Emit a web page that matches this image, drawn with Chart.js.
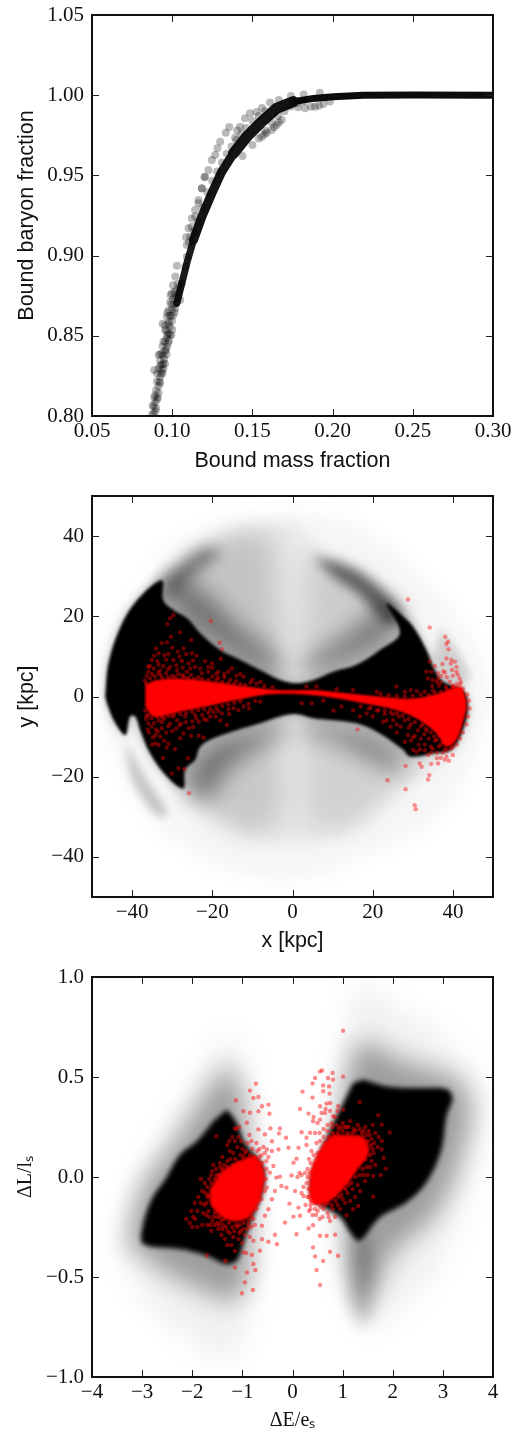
<!DOCTYPE html>
<html>
<head>
<meta charset="utf-8">
<style>
  html, body { margin: 0; background: #fff; }
  canvas { position: absolute; left: 0; display: block; }
</style>
<script src="https://cdn.jsdelivr.net/npm/chart.js@4/dist/chart.umd.min.js"></script>
</head>
<body>
<canvas id="massChart" width="514" height="480" style="top:0"></canvas>
<canvas id="orbitChart" width="514" height="480" style="top:480px"></canvas>
<canvas id="energyChart" width="514" height="473" style="top:960px"></canvas>
<script>
// tick labels
const massTicksX = [0.05, 0.10, 0.15, 0.20, 0.25, 0.30];
const massTicksY = [0.80, 0.85, 0.90, 0.95, 1.00, 1.05];
const orbitTicks = [-40, -20, 0, 20, 40];
const energyTicksX = [-4, -3, -2, -1, 0, 1, 2, 3, 4];
const energyTicksY = [-1.0, -0.5, 0.0, 0.5, 1.0];

// top panel: bound mass fraction vs bound baryon fraction
const boundTrackLow = [[.1029,.8702],[.106,.8827],[.1091,.8952],[.1133,.9097]];
const boundTrackSteep = [[.1133,.9097],[.1185,.9243],[.1247,.9388],[.1309,.9523],[.1382,.9637],[.1465,.9741]];
const boundTrackBend = [[.1382,.9637],[.1465,.9741],[.1548,.9825],[.1651,.9918],[.1755,.996]];
const boundTrackFlat = [[.1755,.996],[.188,.998],[.2004,.9991],[.2191,.9999],[.2502,1.0001],[.30,1.0]];
const boundSamples = [
  [.0875,.801],[.0885,.806],[.09,.8048],[.0894,.813],[.0888,.8115],[.0915,.8187],[.0925,.8245],[.0888,.8287],[.0905,.8265],[.0915,.838],[.0936,.839],[.0946,.8463],[.0967,.843],[.0925,.8345],
  [.0977,.8515],[.0956,.8535],[.094,.8575],[.0967,.862],[.0998,.859],[.0988,.871],[.0978,.866],[.1019,.867],[.0998,.8765],[.1029,.8786],[.105,.8723],[.1019,.8869],[.1029,.8937],[.106,.8827],
  [.0965,.8485],[.0955,.8405],[.0985,.8555],[.1005,.8625],[.0945,.8325],[.0935,.8285],[.092,.8215],
  [.0885,.8015],[.0895,.803],[.0878,.8065],[.0895,.8085],[.091,.8115],[.09,.816],[.0915,.8145],[.0905,.8215],[.093,.8265],[.0915,.8295],[.0945,.8295],[.0925,.8385],[.094,.8435],[.0955,.8465],[.096,.8415],[.097,.8505],[.0955,.8565],[.098,.8585],[.097,.8645],[.1,.8665],[.0985,.8625],[.0995,.8695],[.1005,.873],[.099,.8755],[.1015,.8775],[.1005,.8815],[.102,.8745],[.104,.8765],[.1035,.8825],[.1,.854],[.0995,.8505],[.098,.847],[.0965,.8385],[.095,.8355],[.0935,.832],
  [.0905,.8105],[.0925,.8205],[.094,.8265],[.0925,.8315],[.0955,.8325],[.0945,.8375],[.0975,.8455],[.0985,.8505],[.0965,.8535],[.0975,.8575],[.099,.8625],[.1015,.8645],[.101,.8695],[.103,.8735],[.1045,.8805],
  [.1081,.8931],[.1091,.8993],[.1091,.9066],[.1112,.9118],[.1122,.918],[.1143,.9243],[.1164,.9326],[.1185,.942],[.1205,.9492],
  [.1087,.9114],[.1102,.917],[.1122,.9232],[.1143,.9284],[.1164,.9347],[.1185,.9419],[.1201,.9488],[.1226,.9534],[.1247,.9596],[.1268,.9627],[.1282,.9669],[.1299,.971],[.1334,.9766],[.1355,.9802],
  [.1105,.9085],[.1135,.915],[.116,.921],[.119,.93],[.122,.9395],[.125,.9465],[.128,.9525],[.131,.958],[.134,.9635],[.137,.968],[.14,.972],[.143,.976],[.146,.9795],[.15,.984],[.154,.987],[.158,.99],
  [.15,.969],[.154,.973],[.158,.978],[.162,.983],[.166,.987],[.17,.99],[.174,.993],[.178,.995],[.182,.996],
  [.1485,.9887],[.1454,.9856],[.1423,.9804],[.1438,.9621],[.1392,.9735],[.1405,.978],
  [.1558,.9741],[.1589,.9766],[.162,.9783],[.1651,.9814],[.1683,.9845],[.1575,.9755],[.1635,.98],[.1665,.983],
  [.1828,.9918],[.189,.9928],[.1865,.993],[.1942,.9945],[.1915,.9935],[.1983,.996],[.1785,.9925],
  [.1525,.9895],[.156,.992],[.161,.9955],[.1665,.997],[.174,.9995],[.182,1.0005],[.192,1.0015]
];

// middle panel: black stream particles, outlines of their density
const streamCore = [[-46.7,0],[-45.9,8.3],[-42.9,17.4],[-38.8,24],[-32.6,29],[-32.2,24],[-29.7,21.6],[-26.3,19.5],[-23,15.8],[-18,11.6],[-13,9.1],[-8.1,6.6],[-3.1,4.1],[1,3.3],[5.2,4.1],[10.2,6.2],[16,7.9],[21.8,11.6],[26.8,15.8],[23.4,23.2],[26.8,20.7],[30.1,17.4],[33.4,11.6],[35.5,6.6],[37.6,3.7],[42.5,1.6],[43.8,-2.5],[42.5,-8.4],[39.6,-13.3],[35.1,-14.2],[29.3,-15],[27.6,-13.3],[21.8,-9.2],[16,-6.7],[10.2,-5.9],[5.2,-5.4],[1,-4.4],[-3.1,-5],[-8.1,-6.7],[-13.9,-8.4],[-19.7,-10.4],[-23,-12.5],[-24.3,-15.8],[-26.8,-18.3],[-27.2,-22.9],[-31.3,-20],[-35.5,-14.2],[-38,-8.4],[-39.2,-5],[-40.5,-5],[-41.7,-9.6],[-44.6,-5.9],[-46.3,-1.7]];
const streamOuterHaze = [[0,46],[13,44],[26,36],[36,26],[45,14],[49,0],[47,-10],[42,-23],[33,-33],[20,-39],[5,-45],[-10,-45],[-25,-39],[-33,-33],[-41,-22],[-46,-8],[-47,5],[-44,18],[-36,28],[-25,38],[-12,44]];
const streamDisc = [[0,44],[8.5,36],[21.8,27],[30,17],[38.4,-15],[26,-23.3],[13.5,-34],[0,-37],[-11.4,-34],[-19.7,-30],[-27,-23],[-38,-8],[-38,24],[-33,29],[-25,36],[-12,42]];
const streamUpperLeft = [[-33,29],[-26,36],[-15,41],[-6,40],[-4,25],[-3,10],[-10,9],[-20,14],[-30,22]];
const streamRidgeLeft = [[-33,29],[-28,33],[-22,37],[-18,36],[-25,30],[-31,23]];
const streamUpperRight = [[3,35],[14,32],[22,27],[27,20],[26,16],[18,10],[8,6],[3,10],[3,25]];
const streamRidgeRight = [[5,35],[15,32],[23,26],[27,20],[24,18],[17,25],[10,30]];
const streamLowerLeft = [[-26,-22],[-20,-30],[-10,-35],[-3,-30],[-3,-15],[-4,-8],[-15,-10],[-23,-14]];
const streamLowerRight = [[3,-32],[14,-33],[25,-24],[30,-17],[22,-11],[12,-8],[3,-8],[3,-20]];
const streamInnerUL = [[-33,27],[-28,20],[-20,13],[-10,7],[-2,4],[-4,10],[-12,16],[-20,24],[-27,30]];
const streamInnerUR = [[2,4],[10,7],[18,10],[27,17],[24,24],[18,19],[10,13],[3,9]];
const streamInnerLL = [[-2,-5],[-10,-8],[-20,-11],[-24,-15],[-27,-22],[-22,-26],[-16,-18],[-8,-12],[-2,-9]];
const streamInnerLR = [[2,-5],[10,-6.5],[18,-8],[27,-14],[29,-17],[24,-18],[18,-15],[10,-11],[3,-9]];
const streamWing = [[-41.7,-9.6],[-40.4,-19.2],[-37.1,-25.8],[-33,-30],[-31.3,-28.8],[-36.3,-21],[-39.6,-15.1],[-42.1,-10.1]];
const streamRightEdge = [[37,17],[42,10],[44,4],[38,3],[35,10]];

// middle panel: red particles
const baryonCore = [[-36.7,2.9],[-33.8,4.1],[-28,4.5],[-19.7,3.7],[-11.4,2.5],[-3.1,1.6],[5.2,1.6],[13.5,.8],[21.8,0],[30.1,-.5],[36.7,.8],[41.7,2.5],[43.4,-1.7],[42.9,-5],[40.9,-10.8],[38.4,-12.5],[35.9,-9.2],[31.7,-5.9],[25.9,-3.4],[17.6,-1.7],[9.3,-.2],[1,.6],[-7.3,.4],[-13.9,-.9],[-21.4,-2.5],[-28,-3.8],[-34.6,-5],[-36.7,-2.5]];
const baryonDots = [
  [-29.7,20.3],[-30.5,19.5],[-31.2,18],[-20.4,18.8],[-28,16],[-30.3,14.9],[-18.2,13.4],[-25.3,14.1],[-31.3,13.5],[-32.6,13.3],[-34,12],[-17.6,11.8],[-27.2,12],[-33.4,10.8],[-32,10.3],[-25.1,10.8],[-23.9,10.2],[-17.9,9.4],[-35.1,9.1],[-29.7,9.1],[-27.6,8.9],[-25.9,8.3],[-20.1,8.3],[-21,7.4],[-33.4,7.9],[-32.2,7.6],[-30.5,7.4],[-24.3,7.4],[-28.8,6.6],[-15.1,7],[-16,6.2],[-35.9,6.2],[-18.5,6.2],[-21,6.2],[-22.6,5.8],[-26.4,6.2],[-12.2,4.9],
  [-36.3,5.2],[-35,5.6],[-33,5.4],[-31.5,5.8],[-30,5.2],[-28.5,5.6],[-27,5],[-25.3,5.4],[-23.5,4.8],[-20,5],[-18.5,4.6],[-17,4.8],[-15.5,4.2],[-14,3.9],[-10.5,3.5],[-9,3.2],[-7,2.6],[-5,2.4],[-33.7,8.8],[-30.9,10.6],[-28.6,11.2],[-34.5,10.2],
  [-36.8,4],[-36.5,3.2],[-35.5,4.5],[-34.3,5],[-32.5,4.7],[-31,4.8],[-29.3,4.9],[-27.5,5.3],[-26,4.6],[-24.5,4.4],[-22.5,4.4],[-21,4.2],[-19,4.2],[-17.5,3.6],[-16,3.4],[-14.5,3.2],[-13,3.1],[-11.8,2.9],
  [-36,7.5],[-34.6,7],[-33,6.5],[-31,6.8],[-29,7.8],[-27.4,7.2],[-25.5,7],[-23,7],[-21.8,8.8],[-20,7.2],[-19,5.6],[-17,5.6],[-14,5.2],[-13,5.6],[-28.2,10],[-31.5,9.2],[-26.5,10.6],[-33.5,6],[-35.6,7.6],[-30,12.2],[-24.8,9],[-10,4.2],[-8,3.6],
  [-33.4,-12.1],[-34.2,-11.7],[-30.9,-11.8],[-29.3,-13.1],[-32.3,-15.3],[-26.1,-15.4],[-28.4,-17.9],[-27,-18.1],[-30.1,-19.2],[-25.8,-24.1],[-22.2,-10.3],[-23.4,-9.8],[-25.9,-7.9],[-27.2,-9.2],[-25.3,-9.8],[-33,-10],[-34.2,-9.6],[-35.1,-7.5],[-32.6,-7.9],[-30.5,-6.7],[-28.8,-5.9],[-23.4,-6.3],[-21.4,-5.9],[-16.4,-7.1],[-17.6,-4.2],[-14.7,-2.9],[-12.2,-2.5],[-8.1,-1.3],[-9.3,-1.1],[-35.9,-6.7],[-33.4,-5.9],[-26.8,-5],[-24.3,-4.6],[-19.7,-3.8],
  [-36,-4.6],[-34.5,-6.6],[-32,-5.6],[-30,-5],[-27.8,-6.8],[-25,-6.2],[-22.5,-4.6],[-21,-4],[-18.5,-3.6],[-16,-3.2],[-36.1,-8.2],[-31.5,-9],[-29,-8],[-34,-8.2],[-20.5,-5],[-15.8,-4.4],[-11,-1.8],
  [-36.7,-3.5],[-36.4,-4.8],[-35.2,-5.4],[-33.8,-5],[-32.5,-5.2],[-31,-4.9],[-29.5,-4.6],[-28,-4.4],[-26.5,-4.2],[-25,-3.8],[-23.5,-3.4],[-22,-3.2],[-20.5,-3.2],[-19,-2.8],[-17.5,-2.4],[-16,-2],[-14.5,-1.6],[-13,-1.2],
  [-36.5,-5.6],[-35.8,-9],[-34.8,-10.2],[-33.6,-8.8],[-32.6,-6.4],[-31,-7.4],[-30,-8.6],[-28.2,-7.2],[-26.6,-6.4],[-24.8,-7.6],[-24,-5.4],[-22,-5.6],[-19.2,-5],[-18,-6],[-35,-12],[-32,-11],[-28,-10.4],[-31.4,-12.8],[-13.5,-3.4],[-10.8,-3],
  [3.5,2.5],[6,2.5],[11,1.8],[15.1,1.6],[21,1.2],[25.9,2.5],[28,1.2],[2.3,-1.7],[4.8,-1.7],[7.7,-1],[10.2,-3.5],[12.2,-2.5],[15.1,-3.4],[16.8,-5],[16.2,-8.2],[22.6,-6.3],[25.1,-5.9],[28,-11.3],[28.8,-9.6],[30.1,-13.3],[31.3,-8.4],[30.9,-13.8],
  [19,-3],[21,-3.5],[23,-4.4],[25,-4.5],[26.5,-5],[28,-6],[29.5,-7],[30.5,-9.8],[32,-10.5],[32.5,-7],[33.5,-8.5],[34,-10.5],[33,-12],[34.5,-12.5],[35.5,-11],[36.5,-12.5],[36,-14],[37.5,-14],[38.5,-13.5],[39.5,-13],[31.5,-12],[29.5,-11],[27,-7.5],[24.5,-7.5],[33,-4.5],[31,-2.5],[33.5,-1.5],[35,1.5],[33,1.2],[31,1.4],[29.5,1.6],
  [17,-2.5],[19.5,-2.8],[21.5,-3.4],[23,-3.5],[24.5,-3.9],[26,-4.2],[27.5,-4.8],[29,-5.6],[30.5,-6.4],[32,-7.4],[33.2,-8],[34.5,-9],[35.3,-10],[36,-10.8],[37,-12],[38,-13],[37.5,-11.3],[36.6,-9.6],[35.5,-8],[34,-6.8],
  [22,.7],[24,.4],[26,.2],[28,.1],[30,.2],[32,.5],[34,.3],[35.5,1],[37,1.2],[38.5,1.8],[40,2.6],[41.8,3],[42.5,2],[43.6,.5],[44,-1],[44.2,-3],[43.8,-5],[43.4,-7],[42.5,-9],[41.8,-10.5],[41,-12],[40,-12.6],
  [29,-7.8],[30,-10.2],[31.8,-13.2],[33,-13.4],[34.6,-14],[36,-15.4],[32.8,-9.4],[35,-13],[26,-7],[23.5,-6],[20,-5],[18.5,-4.2],[26,-9],[36,3.6],[38,6],[39.8,6.6],[41.2,5.4],[42,3.6],[35.5,7.6],
  [28.8,24.2],[34.2,17.2],[38.1,14.9],[38.8,13.7],[38.4,13.1],[38.9,11.8],[34.2,8.7],[38.4,9.5],[39.6,9.1],[40.5,8.7],[37.4,8.1],[40.9,7.4],[33.4,6.2],[34.6,6.2],[40.9,6.2],[36.3,5.8],[37.1,5.1],[36.3,4.5],[41.7,4.5],[33.8,4.5],[35,4.1],[39.2,3.7],[37,3.5],[38.5,4.8],[40,5.2],[41,3.2],[34.8,2.6],[36.5,2.7],[38.2,2.4],[40,2.6],[39.5,8.2],[37.6,6.3],
  [23.7,-20.9],[28.2,-23.1],[28.2,-17.3],[30.5,-27.1],[30.7,-28.1],[31.7,-16.7],[32.2,-17.5],[33.8,-20.7],[34.1,-19.6],[34.6,-16.8],[36.3,-16.7],[38,-15.8],[38.4,-15],[40,-14.6],[33.8,-14.6],[37,-15.3],[39,-16]
];

// bottom panel: energy vs angular momentum offsets
const debrisLeft = [[-1.31,.337],[-1.11,.27],[-.95,.171],[-.58,.055],[-.58,-.061],[-.78,-.194],[-.95,-.311],[-1.11,-.419],[-1.34,-.435],[-1.71,-.394],[-2.24,-.36],[-2.97,-.336],[-3.0,-.261],[-2.81,-.111],[-2.54,-.012],[-2.24,.113],[-1.91,.179],[-1.58,.279]];
const debrisRight = [[1.41,.487],[1.88,.453],[2.47,.445],[3.07,.44],[3.19,.395],[3.07,.304],[2.97,.138],[2.67,-.028],[2.27,-.128],[1.74,-.203],[1.34,-.319],[1.15,-.277],[.95,-.203],[.41,-.111],[.38,.005],[.75,.238],[1.01,.37],[1.21,.47]];
const debrisHazeLeft = [[-3.5,-.36],[-3.2,-.1],[-2.5,.25],[-1.9,.5],[-1.2,.72],[-.9,.5],[-.8,.2],[-.75,-.5],[-.95,-.78],[-1.3,-.92],[-2.2,-.78],[-3,-.6]];
const debrisHazeRight = [[.9,.5],[1.1,.78],[1.35,.97],[2,.85],[3,.7],[3.75,.45],[3.7,.1],[3,-.4],[2.2,-.65],[1.45,-.75],[1,-.45],[.85,-.1]];
const debrisGlowLeft = [[-3.3,-.33],[-3,-.05],[-2.4,.16],[-1.9,.35],[-1.3,.55],[-1.05,.45],[-.85,.1],[-.85,-.45],[-1.15,-.62],[-1.7,-.58],[-2.6,-.47]];
const debrisGlowRight = [[1.15,.58],[1.4,.68],[2.2,.58],[3.2,.5],[3.55,.38],[3.3,.05],[2.8,-.2],[2,-.38],[1.55,-.6],[1.3,-.62],[1.1,-.35],[.85,.2]];
const debrisSpike = [[1.2,-.28],[1.48,-.3],[1.55,-.55],[1.5,-.72],[1.3,-.72],[1.2,-.5]];
const clusterLeft = [[-1.42,.03],[-.98,.09],[-.71,.098],[-.56,.022],[-.59,-.061],[-.76,-.171],[-1.05,-.221],[-1.38,-.204],[-1.63,-.138],[-1.65,-.061]];
const clusterRight = [[.81,.214],[1.41,.198],[1.53,.125],[1.3,.038],[1.03,-.055],[.68,-.13],[.39,-.13],[.33,-.045],[.39,.055],[.6,.164]];
const clusterDots = [
  [1.01,.731],[.59,.533],[.55,.528],[.45,.495],[.40,.468],[.20,.427],[.80,.52],[.81,.487],[.71,.495],[1.01,.502],[.61,.458],[.73,.453],[.61,.429],[.74,.417],[.40,.397],[.15,.34],[.55,.354],[.68,.367],[.75,.37],[.91,.354],[1.01,.337],[1.34,.374],[1.71,.309],[.32,.317],[.65,.32],[.81,.304],[.41,.279],[.55,.287],[1.78,.261],[1.94,.223],[.18,.224],[.35,.221],[.28,.196],[.12,.146],[.08,.091],[1.78,.138],[1.82,.096],[1.86,.042],[1.61,.005],[1.76,.01],[1.61,-.098],[1.31,-.145],[1.21,-.161],[1.08,-.191],
  [.55,-.54],[.48,-.465],[.61,-.42],[.45,-.397],[.75,-.374],[.91,-.394],[.41,-.352],[.55,-.294],[.85,-.289],[.68,-.294],[.08,-.286],[.32,-.257],[.41,-.241],[.15,-.194],[.02,-.198],[.12,-.153],[-.15,-.228],[-.06,-.133],[.05,-.07],[.22,-.095],[-.22,-.045],[-.12,-.053],[-.25,.002],[-.02,.008],[.02,.071],[-.08,.146],[-.13,.196],[-.25,.243],[-.27,.218],
  [-.44,.243],[-.48,.362],[-.46,.316],[-.73,.467],[-.85,.432],[-.78,.395],[-.68,.4],[-1.13,.384],[-.61,.354],[-.98,.329],[-.68,.329],[-.85,.321],[-1.52,.204],[-1.15,.243],[-.91,.271],[-.68,.238],[-.55,.213],[-.41,.179],[-.28,.138],[-.41,.13],[-.51,.138],[-.38,.055],[-.45,.022],[-.32,-.003],[-.51,-.053],[-.35,-.07],[-.41,-.111],[-.48,-.161],[-.55,-.194],[-.61,-.244],[-.35,-.289],[-.31,-.336],[-.48,-.324],[-.61,-.311],[-.78,-.319],[-.65,-.369],[-.98,-.377],[-.81,-.389],[-.78,-.435],[-.74,-.465],[-.91,-.477],[-.95,-.527],[-1.01,-.581],[-.79,-.565],[-1.71,-.394],[-1.34,-.419],[-1.15,-.452],
  [-2.12,-.21],[-2.05,-.23],[-2,-.25],[-1.98,-.2],[-2.02,-.17],[-1.94,-.21],[-1.9,-.17],[-1.95,-.13],[-1.88,-.1],[-1.9,-.25],[-1.8,-.24],[-1.78,-.18],[-1.83,-.13],[-1.8,-.07],[-1.75,-.03],[-1.83,-.01],[-1.7,-.1],[-1.68,-.17],[-1.7,-.24],[-1.6,-.22],[-1.62,-.27],[-1.66,-.01],[-1.6,.03],[-1.58,.06],[-1.52,.04],[-1.55,-.24],[-1.5,-.2],[-1.48,-.26],[-1.42,-.29],[-1.38,-.24],[-1.35,-.31],[-1.3,-.34],[-1.25,-.28],[-1.22,-.34],[-1.18,-.3],[-1.15,-.37],[-1.1,-.25],[-1.08,-.31],[-1.03,-.27],[-1,-.33],[-.95,-.29],[-.9,-.26],[-.87,-.22],[-.92,-.38],[-.85,-.3],[-1.45,.07],[-1.4,.1],[-1.3,.08],[-1.25,.13],[-1.18,.12],[-1.1,.15],[-1.3,.16],[-1.2,.2],[-1.15,.18],[-1.08,.2],[-1,.14],[-.95,.12],[-.9,.17],[-.85,.11],[-.8,.14],[-.75,.1],[-.7,.13],[-.62,.11],[-.55,.12],[-.52,.08],[-.48,.1],
  [-1.7,-.05],[-1.72,-.13],[-1.66,-.2],[-1.55,-.18],[-1.5,-.23],[-1.42,-.22],[-1.33,-.25],[-1.27,-.23],[-1.2,-.25],[-1.12,-.24],[-1.05,-.24],[-.97,-.23],[-.92,-.2],[-.83,-.2],[-.78,-.21],[-.72,-.16],[-.68,-.12],[-.62,-.11],[-.55,-.07],[-.53,-.01],[-.52,.04],[-.6,.07],[-.66,.1],[-.78,.1],[-.88,.09],[-.98,.1],[-1.08,.07],[-1.18,.06],[-1.3,.05],[-1.4,.04],[-1.47,.01],[-1.55,-.01],[-1.62,-.03],[-1.68,-.09],[-1.58,-.14],[-1.45,-.2],[-1.36,-.21],
  [-1.74,-.08],[-1.76,-.14],[-1.72,-.19],[-1.64,-.24],[-1.57,-.2],[-1.46,-.24],[-1.4,-.26],[-1.3,-.27],[-1.16,-.27],[-1.06,-.28],[-.98,-.26],[-.88,-.24],[-.82,-.25],[-.75,-.24],[-1.62,.01],[-1.52,.01],[-1.44,.05],[-1.36,.06],[-1.24,.09],[-1.14,.09],[-1.04,.11],[-.92,.13],[-.72,.17],[-.66,.14],[-.58,.15],[-1.26,.18],[-1.02,.18],[-.86,.21],[-1.12,.24],[-1.06,.25],[-.82,.18],
  [.3,.04],[.25,.02],[.18,.01],[.14,.02],[.1,.0],[.28,-.03],[.22,-.05],[.18,-.08],[.3,-.1],[.26,-.14],[.36,-.14],[.33,-.17],[.4,-.19],[.45,-.16],[.5,-.17],[.56,-.15],[.6,-.2],[.65,-.14],[.7,-.18],[.75,-.22],[.8,-.16],[.85,-.2],[.9,-.14],[.95,-.16],[1.0,-.11],[1.05,-.13],[1.1,-.08],[1.15,-.12],[1.2,-.06],[1.25,-.1],[1.3,-.04],[1.35,-.07],[1.45,-.02],[1.5,.01],[1.4,.04],[1.55,.05],[1.65,.06],[1.62,.12],[1.7,.15],[1.78,.18],[1.72,.2],[1.65,.22],[1.58,.19],[1.6,.26],[1.52,.23],[1.45,.25],[1.38,.22],[1.3,.26],[1.22,.24],[1.15,.28],[1.08,.25],[1,.27],[.92,.24],[.85,.3],[.78,.27],[.7,.26],[.62,.2],[.55,.18],[.5,.12],[.45,.22],[.38,.13],[.33,.09],[.28,.16],[.42,.3],[.5,.27],[.58,.32],[.66,.34],[.75,.33],[.9,.33],
  [.34,.02],[.32,-.06],[.33,-.1],[.37,-.12],[.44,-.13],[.5,-.13],[.58,-.12],[.64,-.11],[.7,-.13],[.76,-.08],[.83,-.09],[.88,-.05],[.95,-.06],[1,-.03],[1.08,-.02],[1.15,.01],[1.22,.03],[1.3,.06],[1.36,.09],[1.45,.09],[1.55,.11],[1.57,.16],[1.5,.18],[1.47,.21],[1.4,.2],[1.3,.2],[1.2,.22],[1.1,.22],[1,.23],[.9,.22],[.8,.22],[.72,.2],[.65,.17],[.58,.12],[.52,.08],[.45,.06],[.39,.03],
  [.36,-.16],[.47,-.19],[.54,-.21],[.62,-.16],[.72,-.2],[.78,-.14],[.86,-.12],[.92,-.1],[.98,-.09],[1.06,-.06],[1.12,-.04],[1.18,-.03],[1.26,0],[1.34,.01],[1.42,.01],[1.48,.05],[1.58,.08],[1.6,.14],[1.63,.17],[1.54,.21],[1.42,.23],[1.34,.24],[1.26,.23],[1.12,.25],[1.04,.25],[.96,.25],[.88,.26],[.8,.25],[.7,.23],[.62,.24],[.54,.22],[.48,.17],[.42,.11],[.36,.07],[.3,.0]
];

const toPoints = list => list.map(([x, y]) => ({ x, y }));

// outline filled as a soft patch of density
const patch = (list, color, blur) => ({
  data: toPoints(list), showLine: true, fill: 'shape', backgroundColor: color,
  borderWidth: 0, pointRadius: 0, tension: 0.35, blur
});
const dots = (list, color, radius) => ({
  data: toPoints(list), backgroundColor: color, borderWidth: 0, pointRadius: radius
});
const track = (list, color, width) => ({
  data: toPoints(list), showLine: true, borderColor: color, borderWidth: width,
  borderCapStyle: 'round', pointRadius: 0, backgroundColor: color
});

const setBlur = (chart, index) => {
  const set = chart.data.datasets[index];
  chart.ctx.filter = set && set.blur ? `blur(${set.blur}px)` : 'none';
};

// datasets draw last to first, so the filter for the next one is set after the previous
const softPatches = {
  id: 'softPatches',
  beforeDatasetsDraw(chart) { setBlur(chart, chart.data.datasets.length - 1); },
  afterDatasetDraw(chart, args) { setBlur(chart, args.index - 1); },
  afterDatasetsDraw(chart) { chart.ctx.filter = 'none'; }
};

// matplotlib style box with inward ticks on all four sides
const boxFrame = {
  id: 'boxFrame',
  afterDraw(chart) {
    const { ctx, chartArea: a, scales } = chart;
    ctx.save();
    ctx.strokeStyle = '#222';
    ctx.lineWidth = 1;
    ctx.beginPath();
    scales.x.ticks.forEach(t => {
      const px = Math.round(scales.x.getPixelForValue(t.value)) + 0.5;
      ctx.moveTo(px, a.top); ctx.lineTo(px, a.top + 7);
      ctx.moveTo(px, a.bottom); ctx.lineTo(px, a.bottom - 7);
    });
    scales.y.ticks.forEach(t => {
      const py = Math.round(scales.y.getPixelForValue(t.value)) + 0.5;
      ctx.moveTo(a.left, py); ctx.lineTo(a.left + 7, py);
      ctx.moveTo(a.right, py); ctx.lineTo(a.right - 7, py);
    });
    ctx.stroke();
    ctx.strokeStyle = '#111';
    ctx.lineWidth = 2;
    ctx.strokeRect(a.left, a.top, a.right - a.left, a.bottom - a.top);
    ctx.restore();
  }
};

const signed = (value, digits) => {
  const text = Math.abs(value).toFixed(digits);
  return value < -1e-9 ? '\u2212' + text : text;
};

const tickFont = { family: '"Liberation Serif"', size: 21 };

const axis = (range, ticks, digits, labelGap, title, titleFont, titlePadding, fit) => ({
  type: 'linear',
  min: range[0],
  max: range[1],
  grid: { display: false, drawTicks: false },
  border: { display: false },
  afterBuildTicks: s => { s.ticks = ticks.map(value => ({ value })); },
  afterFit: s => {
    fit(s);
    s.paddingLeft = s.paddingRight = s.paddingTop = s.paddingBottom = 0;
  },
  ticks: {
    autoSkip: false, maxRotation: 0, minRotation: 0, padding: labelGap, color: '#111',
    font: tickFont,
    callback: v => signed(v, digits)
  },
  title: { display: true, text: title, color: '#111', font: titleFont, padding: titlePadding }
});

const makePanel = (id, top, xAxis, yAxis, datasets) => new Chart(document.getElementById(id), {
  type: 'scatter',
  data: { datasets },
  plugins: [softPatches, boxFrame],
  options: {
    responsive: false,
    animation: false,
    events: [],
    layout: { autoPadding: false, padding: { top, right: 21, left: 0, bottom: 0 } },
    plugins: { legend: { display: false }, tooltip: { enabled: false } },
    scales: { x: xAxis, y: yAxis }
  }
});

const sansTitle = { family: '"Liberation Sans"', size: 21.5 };
const serifTitle = { family: '"Liberation Serif"', size: 20 };
const fitX = h => s => { s.height = h; };
const fitY = s => { s.width = 92; };

makePanel('massChart', 15,
  axis([0.05, 0.30], massTicksX, 2, 3, 'Bound mass fraction', sansTitle, { top: 0, bottom: 6 }, fitX(64)),
  axis([0.80, 1.05], massTicksY, 2, 8, 'Bound baryon fraction', sansTitle, { top: 14, bottom: 0 }, fitY),
  [
    dots(boundSamples, 'rgba(0,0,0,0.27)', 4),
    track(boundTrackFlat, '#0c0c0c', 7),
    track(boundTrackBend, '#141414', 11),
    track(boundTrackSteep, '#141414', 9),
    track(boundTrackLow, '#1c1c1c', 7)
  ]);

makePanel('orbitChart', 16,
  axis([-50, 50], orbitTicks, 0, 3, 'x [kpc]', sansTitle, { top: 0, bottom: 6 }, fitX(63)),
  axis([-50, 50], orbitTicks, 0, 8, 'y [kpc]', sansTitle, { top: 14, bottom: 0 }, fitY),
  [
    dots(baryonDots, 'rgba(255,0,0,0.42)', 2.2),
    patch(baryonCore, '#f00', 0.8),
    patch(streamCore, '#000', 1.5),
    patch(streamCore, 'rgba(0,0,0,0.25)', 6),
    patch(streamInnerUL, 'rgba(0,0,0,0.45)', 12),
    patch(streamInnerUR, 'rgba(0,0,0,0.42)', 12),
    patch(streamInnerLL, 'rgba(0,0,0,0.45)', 12),
    patch(streamInnerLR, 'rgba(0,0,0,0.4)', 12),
    patch(streamRightEdge, 'rgba(0,0,0,0.16)', 4),
    patch(streamWing, 'rgba(0,0,0,0.22)', 5),
    patch(streamRidgeRight, 'rgba(0,0,0,0.55)', 6),
    patch(streamRidgeLeft, 'rgba(0,0,0,0.4)', 7),
    patch(streamLowerRight, 'rgba(0,0,0,0.1)', 14),
    patch(streamLowerLeft, 'rgba(0,0,0,0.14)', 14),
    patch(streamUpperRight, 'rgba(0,0,0,0.12)', 14),
    patch(streamUpperLeft, 'rgba(0,0,0,0.16)', 14),
    patch(streamDisc, 'rgba(0,0,0,0.06)', 8),
    patch(streamOuterHaze, 'rgba(0,0,0,0.035)', 9)
  ]);

makePanel('energyChart', 17,
  axis([-4, 4], energyTicksX, 0, 3, '\u0394E/e\u209B', serifTitle, { top: 0, bottom: 0 }, fitX(56)),
  axis([-1, 1], energyTicksY, 1, 8, '\u0394L/l\u209B', serifTitle, { top: 14, bottom: 0 }, fitY),
  [
    dots(clusterDots, 'rgba(255,0,0,0.45)', 2.2),
    patch(clusterRight, '#f00', 1.5),
    patch(clusterLeft, '#f00', 1.5),
    patch(debrisRight, '#000', 2.5),
    patch(debrisLeft, '#000', 2.5),
    patch(debrisSpike, 'rgba(0,0,0,0.3)', 9),
    patch(debrisGlowRight, 'rgba(0,0,0,0.35)', 13),
    patch(debrisGlowLeft, 'rgba(0,0,0,0.35)', 13),
    patch(debrisHazeRight, 'rgba(0,0,0,0.06)', 14),
    patch(debrisHazeLeft, 'rgba(0,0,0,0.06)', 14)
  ]);
</script>
</body>
</html>
